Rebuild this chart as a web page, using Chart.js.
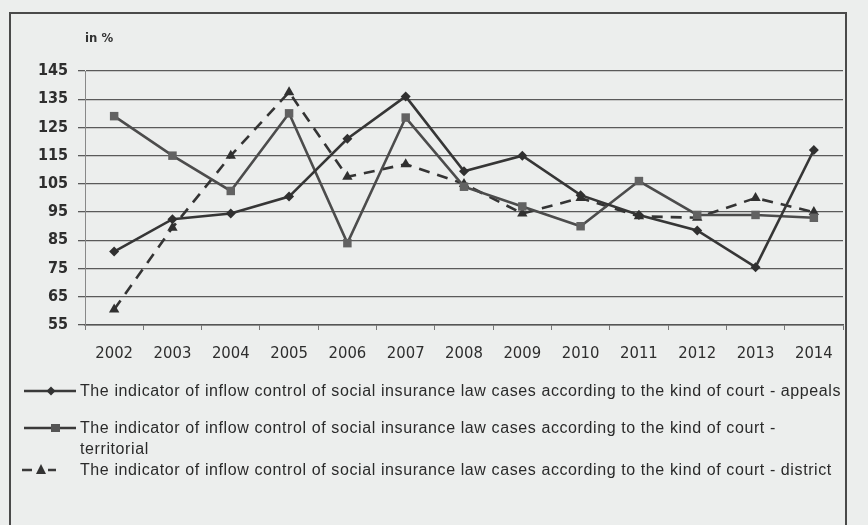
<!DOCTYPE html>
<html>
<head>
<meta charset="utf-8">
<script src="https://cdn.jsdelivr.net/npm/chart.js@4/dist/chart.umd.min.js"></script>
<style>
  html, body { margin: 0; padding: 0; background: #eceeed; }
  #wrap { position: relative; width: 868px; height: 525px; overflow: hidden; background: #eceeed; }
  #frame { position: absolute; left: 9px; top: 12px; width: 838px; height: 520px; border: 2px solid #4a4a4a; box-sizing: border-box; }
  #chart { position: absolute; left: 0; top: 0; }
  #unit { position: absolute; left: 85px; top: 30px; font: bold 13px "Liberation Sans Narrow", "DejaVu Sans Condensed", sans-serif; color: #333; }
  #legend { position: absolute; left: 22px; top: 380px; font: 16px "Liberation Sans", Arial, sans-serif; letter-spacing: 0.6px; color: #2a2a2a; }
  .item { position: absolute; left: 0; white-space: nowrap; line-height: 21px; }
  .item canvas { position: absolute; left: 0; top: 3px; }
  .item span { position: absolute; left: 58px; top: 0; }
</style>
</head>
<body>
<div id="wrap">
  <div id="frame"></div>
  <canvas id="chart" width="868" height="525"></canvas>
  <div id="unit">in %</div>
  <div id="legend"></div>
</div>
<script>
// Years on the category axis
const years = ['2002','2003','2004','2005','2006','2007','2008','2009','2010','2011','2012','2013','2014'];

// Inflow control indicator, in %, by kind of court
const appeals     = [81, 92.5, 94.5, 100.5, 121, 136, 109.5, 115, 101, 94, 88.5, 75.5, 117];
const territorial = [129, 115, 102.5, 130, 84, 128.5, 104, 97, 90, 106, 94, 94, 93];
const district    = [60.5, 89.5, 115, 137.5, 107.5, 112, 105, 94.5, 100, 93.5, 93, 100, 95];

// Value axis ticks
const yTicks = [55, 65, 75, 85, 95, 105, 115, 125, 135, 145];

const seriesNames = [
  'The indicator of inflow control of social insurance law cases according to the kind of court - appeals',
  'The indicator of inflow control of social insurance law cases according to the kind of court -\nterritorial',
  'The indicator of inflow control of social insurance law cases according to the kind of court - district'
];

const FONT = '"Liberation Sans Narrow", "DejaVu Sans Condensed", sans-serif';

const datasets = [
  {
    label: seriesNames[0], data: appeals,
    borderColor: '#363636', backgroundColor: '#303030', borderWidth: 2.6,
    pointStyle: 'rectRot', pointRadius: 5, pointBorderWidth: 0, tension: 0
  },
  {
    label: seriesNames[1], data: territorial,
    borderColor: '#4c4c4c', backgroundColor: '#626262', borderWidth: 2.6,
    pointStyle: 'rect', pointRadius: 6, pointBorderWidth: 0, tension: 0
  },
  {
    label: seriesNames[2], data: district,
    borderColor: '#343434', backgroundColor: '#303030', borderWidth: 2.6, borderDash: [11, 8],
    pointStyle: 'triangle', pointRadius: 6, pointBorderWidth: 0, tension: 0
  }
];

new Chart(document.getElementById('chart'), {
  type: 'line',
  data: { labels: years, datasets },
  options: {
    responsive: false,
    animation: false,
    devicePixelRatio: 1,
    layout: { padding: { top: 71, left: 0, right: 25, bottom: 160 } },
    plugins: { legend: { display: false }, tooltip: { enabled: false } },
    scales: {
      x: {
        offset: true,
        grid: { display: true, drawOnChartArea: false, drawTicks: true, tickLength: 5, offset: true, color: '#777', lineWidth: 1 },
        border: { display: true, color: '#555', width: 1.5 },
        ticks: { color: '#2e2e2e', font: { family: FONT, size: 16.5 }, padding: 14, maxRotation: 0 },
        afterFit: s => { s.height = 40; }
      },
      y: {
        min: 55, max: 145,
        afterBuildTicks: s => { s.ticks = yTicks.map(v => ({ value: v })); },
        grid: { color: '#5a5a5a', lineWidth: 1.3, drawTicks: true, tickLength: 7 },
        border: { display: true, color: '#888', width: 1 },
        ticks: { color: '#2e2e2e', font: { family: FONT, size: 16, weight: 'bold' }, padding: 10 },
        afterFit: s => { s.width = 85; }
      }
    }
  }
});

// Legend: line sample with marker, then the series name
const legendRows = [
  { top: 0,  style: 'rectRot' },
  { top: 37, style: 'rect' },
  { top: 79, style: 'triangle' }
];
const legend = document.getElementById('legend');
legendRows.forEach((row, i) => {
  const item = document.createElement('div');
  item.className = 'item';
  item.style.top = row.top + 'px';
  const c = document.createElement('canvas');
  c.width = 56; c.height = 16;
  const g = c.getContext('2d');
  g.strokeStyle = '#3a3a3a'; g.fillStyle = i === 1 ? '#555' : '#333'; g.lineWidth = 2.5;
  g.beginPath();
  if (i === 2) { g.moveTo(0, 8); g.lineTo(10, 8); g.moveTo(26, 8); g.lineTo(34, 8); }
  else { g.moveTo(2, 8); g.lineTo(54, 8); }
  g.stroke();
  g.beginPath();
  if (row.style === 'rectRot') { g.moveTo(29, 3.5); g.lineTo(33.5, 8); g.lineTo(29, 12.5); g.lineTo(24.5, 8); }
  else if (row.style === 'rect') { g.rect(29, 4, 9, 8); }
  else { g.moveTo(19, 2); g.lineTo(24, 12); g.lineTo(14, 12); }
  g.closePath(); g.fill();
  item.appendChild(c);
  const t = document.createElement('span');
  t.innerHTML = seriesNames[i].replace('\n', '<br>');
  item.appendChild(t);
  legend.appendChild(item);
});
</script>
</body>
</html>
